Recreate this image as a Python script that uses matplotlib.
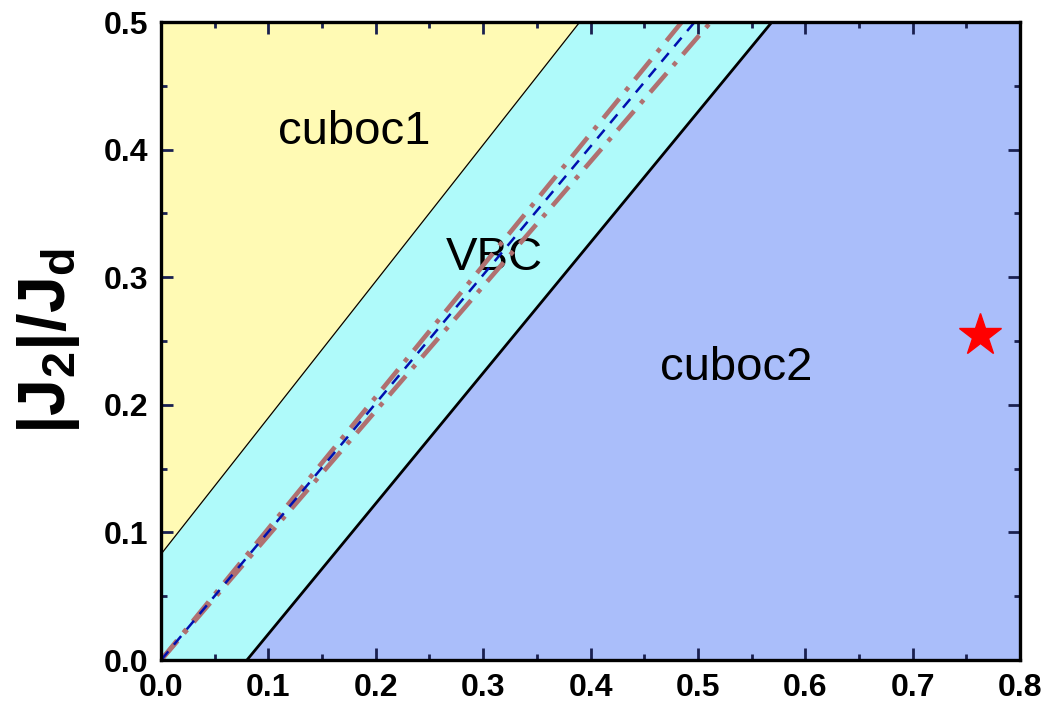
import numpy as np
import matplotlib
matplotlib.use("Agg")
import matplotlib.pyplot as plt

# phase boundaries (x = J1/Jd, y = |J2|/Jd)
upper_x = [0.0, 0.39]      # cuboc1 / VBC
upper_y = [0.083, 0.5]
lower_x = [0.08, 0.569]    # VBC / cuboc2
lower_y = [0.0, 0.5]

# other estimates inside the VBC region
blue_x = [0.0, 0.497]
blue_y = [0.0, 0.5]
brown1_x = [0.0, 0.485]
brown1_y = [0.0, 0.5]
brown2_x = [0.0, 0.512]
brown2_y = [0.0, 0.5]

star_x = [0.763]
star_y = [0.255]

labels = ["cuboc1", "VBC", "cuboc2"]
label_x = [0.18, 0.31, 0.536]
label_y = [0.414, 0.315, 0.229]

xticks = [0.0, 0.1, 0.2, 0.3, 0.4, 0.5, 0.6, 0.7, 0.8]
yticks = [0.0, 0.1, 0.2, 0.3, 0.4, 0.5]

plt.rcParams['font.family'] = ['Liberation Sans', 'DejaVu Sans']
plt.rcParams['mathtext.fontset'] = 'custom'
plt.rcParams['mathtext.rm'] = 'Liberation Sans'
plt.rcParams['mathtext.it'] = 'Liberation Sans'
plt.rcParams['mathtext.bf'] = 'Liberation Sans:bold'

fig = plt.figure(figsize=(10.46, 7.10), dpi=100)
ax = fig.add_axes([0.154, 0.0704, 0.8211, 0.8986])
ax.set_xlim(0, 0.8)
ax.set_ylim(0, 0.5)

yellow = "#FFFAB4"
cyan = "#AFFAFA"
blue = "#AABEFA"

# cyan background = VBC, then the two other phases on top
ax.set_facecolor(cyan)
xx = np.linspace(0, 0.8, 400)
slope_u = (upper_y[1] - upper_y[0]) / (upper_x[1] - upper_x[0])
top = upper_y[0] + slope_u * (xx - upper_x[0])
ax.fill_between(xx, top, 0.5, where=top < 0.5, color=yellow, lw=0, zorder=1)
slope_l = (lower_y[1] - lower_y[0]) / (lower_x[1] - lower_x[0])
bot = lower_y[0] + slope_l * (xx - lower_x[0])
ax.fill_between(xx, 0, bot, where=bot > 0, color=blue, lw=0, zorder=1)

ax.plot(upper_x, upper_y, color="black", lw=0.9, zorder=3)
ax.plot(lower_x, lower_y, color="black", lw=2.0, zorder=3)

ax.plot(brown1_x, brown1_y, color="#B07070", lw=3.3, dashes=(5.5, 2.2, 1, 2.2), zorder=4)
ax.plot(brown2_x, brown2_y, color="#B07070", lw=3.3, dashes=(5.5, 2.2, 1, 2.2), zorder=4)
ax.plot(blue_x, blue_y, color="#0010B0", lw=1.8, dashes=(4.5, 3.5), zorder=5)

ax.plot(star_x, star_y, marker="*", color="#FF0000", ms=32, mec="#FF0000", ls="none", zorder=6, clip_on=False)

for t, x, y in zip(labels, label_x, label_y):
    ax.text(x, y, t, fontsize=34, ha="center", va="center", zorder=2)

ax.set_xticks(xticks)
ax.set_yticks(yticks)
ax.set_xticklabels([f"{v:.1f}" for v in xticks])
ax.set_yticklabels([f"{v:.1f}" for v in yticks])
ax.set_xticks(np.arange(0.05, 0.8, 0.1), minor=True)
ax.set_yticks(np.arange(0.05, 0.5, 0.1), minor=True)
ax.tick_params(which="both", direction="in", top=True, right=True, color="#1a2050")
ax.tick_params(which="major", length=8.5, width=2, labelsize=23, pad=9)
ax.tick_params(which="minor", length=4.3, width=2)
for lab in ax.get_xticklabels() + ax.get_yticklabels():
    lab.set_fontweight("bold")
for s in ax.spines.values():
    s.set_linewidth(2.4)
    s.set_zorder(7)

ax.set_ylabel(r"$\mathbf{|J_2|/J_d}$", fontsize=48, labelpad=16)

fig.savefig("out.png", dpi=100)
